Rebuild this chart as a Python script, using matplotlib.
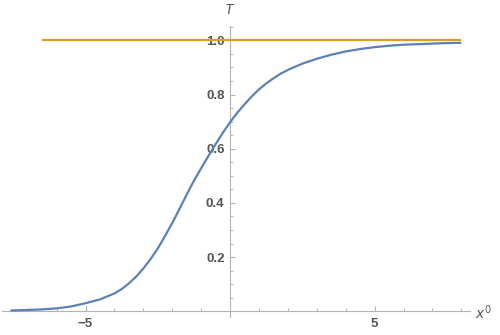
import matplotlib
matplotlib.use("Agg")
import matplotlib.pyplot as plt
from matplotlib.ticker import MultipleLocator, FixedLocator

# Data
x_vals = [-7.6, -7.0, -6.5, -6.0, -5.5, -5.0, -4.5, -4.0, -3.75, -3.5, -3.25, -3.0,
          -2.75, -2.5, -2.25, -2.0, -1.75, -1.5, -1.25, -1.0, -0.75, -0.5, -0.25,
          0.0, 0.25, 0.5, 0.75, 1.0, 1.25, 1.5, 1.75, 2.0, 2.5, 3.0, 3.5, 4.0,
          4.5, 5.0, 5.5, 6.0, 6.5, 7.0, 7.5, 8.0]
t_vals = [0.003, 0.005, 0.007, 0.011, 0.018, 0.030, 0.044, 0.066, 0.082, 0.103,
          0.128, 0.158, 0.193, 0.232, 0.278, 0.326, 0.378, 0.431, 0.482, 0.528,
          0.573, 0.617, 0.659, 0.698, 0.733, 0.764, 0.793, 0.819, 0.841, 0.860,
          0.877, 0.891, 0.914, 0.932, 0.947, 0.959, 0.968, 0.975, 0.980, 0.984,
          0.986, 0.988, 0.990, 0.991]
const_x = [-6.5, 8.0]
const_t = [1.0, 1.0]

x_ticks_major = [-5, 5]
x_tick_labels = ["\u22125", "5"]
y_ticks_major = [0.2, 0.4, 0.6, 0.8, 1.0]
y_tick_labels = ["0.2", "0.4", "0.6", "0.8", "1.0"]

BLUE = "#5E81B5"
ORANGE = "#E19C24"
AXC = "#b3b3b3"
TXC = "#555555"

plt.rcParams['font.family'] = ['Liberation Sans', 'DejaVu Sans']

fig = plt.figure(figsize=(5, 3.35), dpi=100)
ax = fig.add_axes([0.004, 0.0537, 0.936, 0.8687])
ax.set_xlim(-7.89, 8.30)
ax.set_ylim(-0.021, 1.053)

ax.plot(x_vals, t_vals, color=BLUE, lw=1.6, solid_capstyle='butt',
        solid_joinstyle='round', zorder=3)
ax.plot(const_x, const_t, color=ORANGE, lw=1.6, solid_capstyle='butt', zorder=3)

for s in ['top', 'right']:
    ax.spines[s].set_visible(False)
ax.spines['left'].set_position(('data', 0))
ax.spines['bottom'].set_position(('data', 0))
for s in ['left', 'bottom']:
    ax.spines[s].set_color(AXC)
    ax.spines[s].set_linewidth(0.8)

ax.xaxis.set_major_locator(FixedLocator(x_ticks_major))
ax.set_xticklabels(x_tick_labels)
ax.xaxis.set_minor_locator(MultipleLocator(1))
ax.yaxis.set_major_locator(FixedLocator(y_ticks_major))
ax.set_yticklabels(y_tick_labels)
ax.yaxis.set_minor_locator(MultipleLocator(0.05))

ax.tick_params(axis='both', which='major', direction='in', length=3.8, width=0.8,
               color=AXC, labelcolor=TXC, labelsize=9.5)
ax.tick_params(axis='both', which='minor', direction='in', length=2.0, width=0.7,
               color=AXC)
ax.tick_params(axis='x', which='major', pad=5)
ax.tick_params(axis='y', which='major', pad=4)
for lab in ax.get_xticklabels() + ax.get_yticklabels():
    lab.set_fontweight('bold')

fig.text(229 / 500, 1 - 10 / 335, "T", color=TXC, fontsize=10, style='italic',
         ha='center', va='center')
fig.text(483 / 500, 1 - 313 / 335, "$x^0$", color=TXC, fontsize=10,
         ha='center', va='center')

fig.savefig("out.png", dpi=100)
